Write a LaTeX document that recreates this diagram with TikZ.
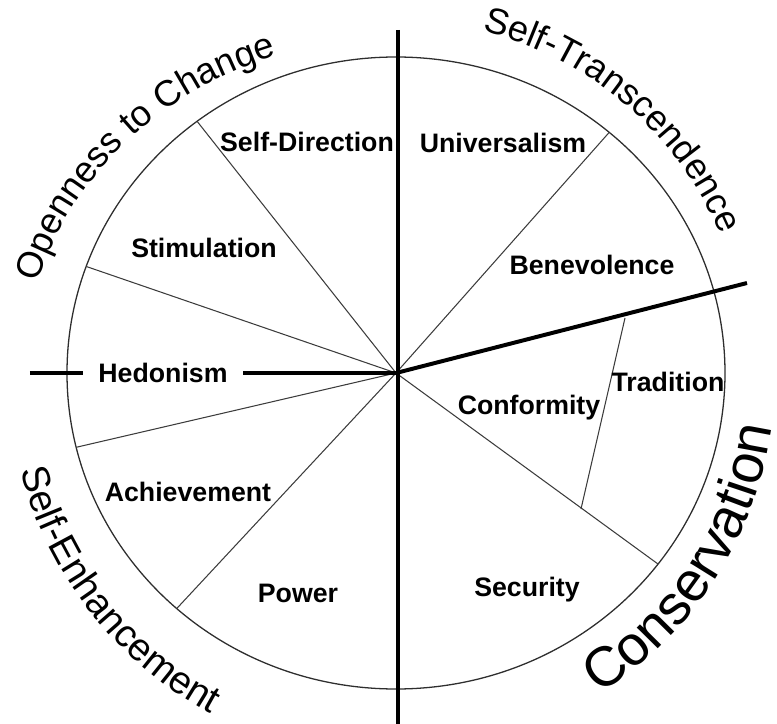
\documentclass[tikz,border=0pt]{standalone}
\usepackage{fontspec}
\setmainfont{Liberation Sans}
\usepackage{xcolor}
\usepackage{tikz}
\usetikzlibrary{calc,decorations.text}
\definecolor{inkc}{HTML}{000000}
\definecolor{spkc}{HTML}{3C3C3C}
\definecolor{rimc}{HTML}{2E2E2E}
\newcommand{\ringf}{\fontsize{31}{31}\selectfont}
\newcommand{\enhf}{\fontsize{33}{33}\selectfont}
\newcommand{\consf}{\fontsize{47.6}{47.6}\selectfont}
\tikzset{
  thk/.style={line width=3.4pt,inkc},
  thn/.style={line width=0.9pt,spkc},
  rim/.style={line width=1.1pt,rimc},
  lbl/.style={font=\fontsize{22.8}{24}\selectfont\bfseries,text=inkc,inner sep=1pt},
  ring/.style={decorate,decoration={text along path,text align=center,text={#1}}}
}

\begin{document}
\begin{tikzpicture}[x=0.03cm,y=0.03cm]
\useasboundingbox (-396,-351) rectangle (381,373);
\coordinate (c) at (0,0);
\draw[rim] (c) ellipse[x radius=329,y radius=316];
\coordinate (sd) at ({329*cos(127.2)},{316*sin(127.2)});
\coordinate (st) at ({329*cos(160.3)},{316*sin(160.3)});
\coordinate (ha) at ({329*cos(193.6)},{316*sin(193.6)});
\coordinate (ap) at ({329*cos(228.2)},{316*sin(228.2)});
\coordinate (cs) at ({329*cos(-37.2)},{316*sin(-37.2)});
\coordinate (ub) at ({329*cos(49.6)},{316*sin(49.6)});
\coordinate (tt) at (229,55);
\coordinate (tb) at (185,-136);
\draw[thn] (c)--(sd);
\draw[thn] (c)--(st);
\draw[thn] (c)--(ha);
\draw[thn] (c)--(ap);
\draw[thn] (c)--(cs);
\draw[thn] (c)--(ub);
\draw[thn] (tt)--(tb);
\coordinate (vt) at (2,343);
\coordinate (vb) at (2,-351);
\coordinate (hl) at (-366,0);
\coordinate (re) at (351,90);
\draw[thk] (vt)--(vb);
\draw[thk] (c)--(re);
\node[lbl,inner xsep=13pt] (hedo) at (-233,0) {Hedonism};
\draw[thk] (hl)--(hedo);
\draw[thk] (hedo)--(c);
\node[lbl] (sdir) at (-89,231) {Self-Direction};
\node[lbl] (univ) at (107,230) {Universalism};
\node[lbl] (stim) at (-192,125) {Stimulation};
\node[lbl] (bene) at (196,108) {Benevolence};
\node[lbl] (trad) at (272,-9) {Tradition};
\node[lbl] (conf) at (133,-35) {Conformity};
\node[lbl] (achi) at (-208,-119) {Achievement};
\node[lbl] (powr) at (-98,-220) {Power};
\node[lbl] (secu) at (131,-217) {Security};
\path[ring={|\ringf|Openness to Change}] ({372*cos(175)},{335*sin(175)}) arc[start angle=175,end angle=99,x radius=372,y radius=335];
\path[ring={|\ringf|Self-Transcendence}] ({353*cos(88)},{353*sin(88)}) arc[start angle=88,end angle=11,radius=353];
\path[ring={|\enhf|Self-Enhancement}] ({388*cos(178)},{388*sin(178)}) arc[start angle=178,end angle=258,radius=388];
\path[ring={|\consf|Conservation}] ({380*cos(-75)},{380*sin(-75)}) arc[start angle=-75,end angle=9,radius=380];
\end{tikzpicture}
\end{document}
